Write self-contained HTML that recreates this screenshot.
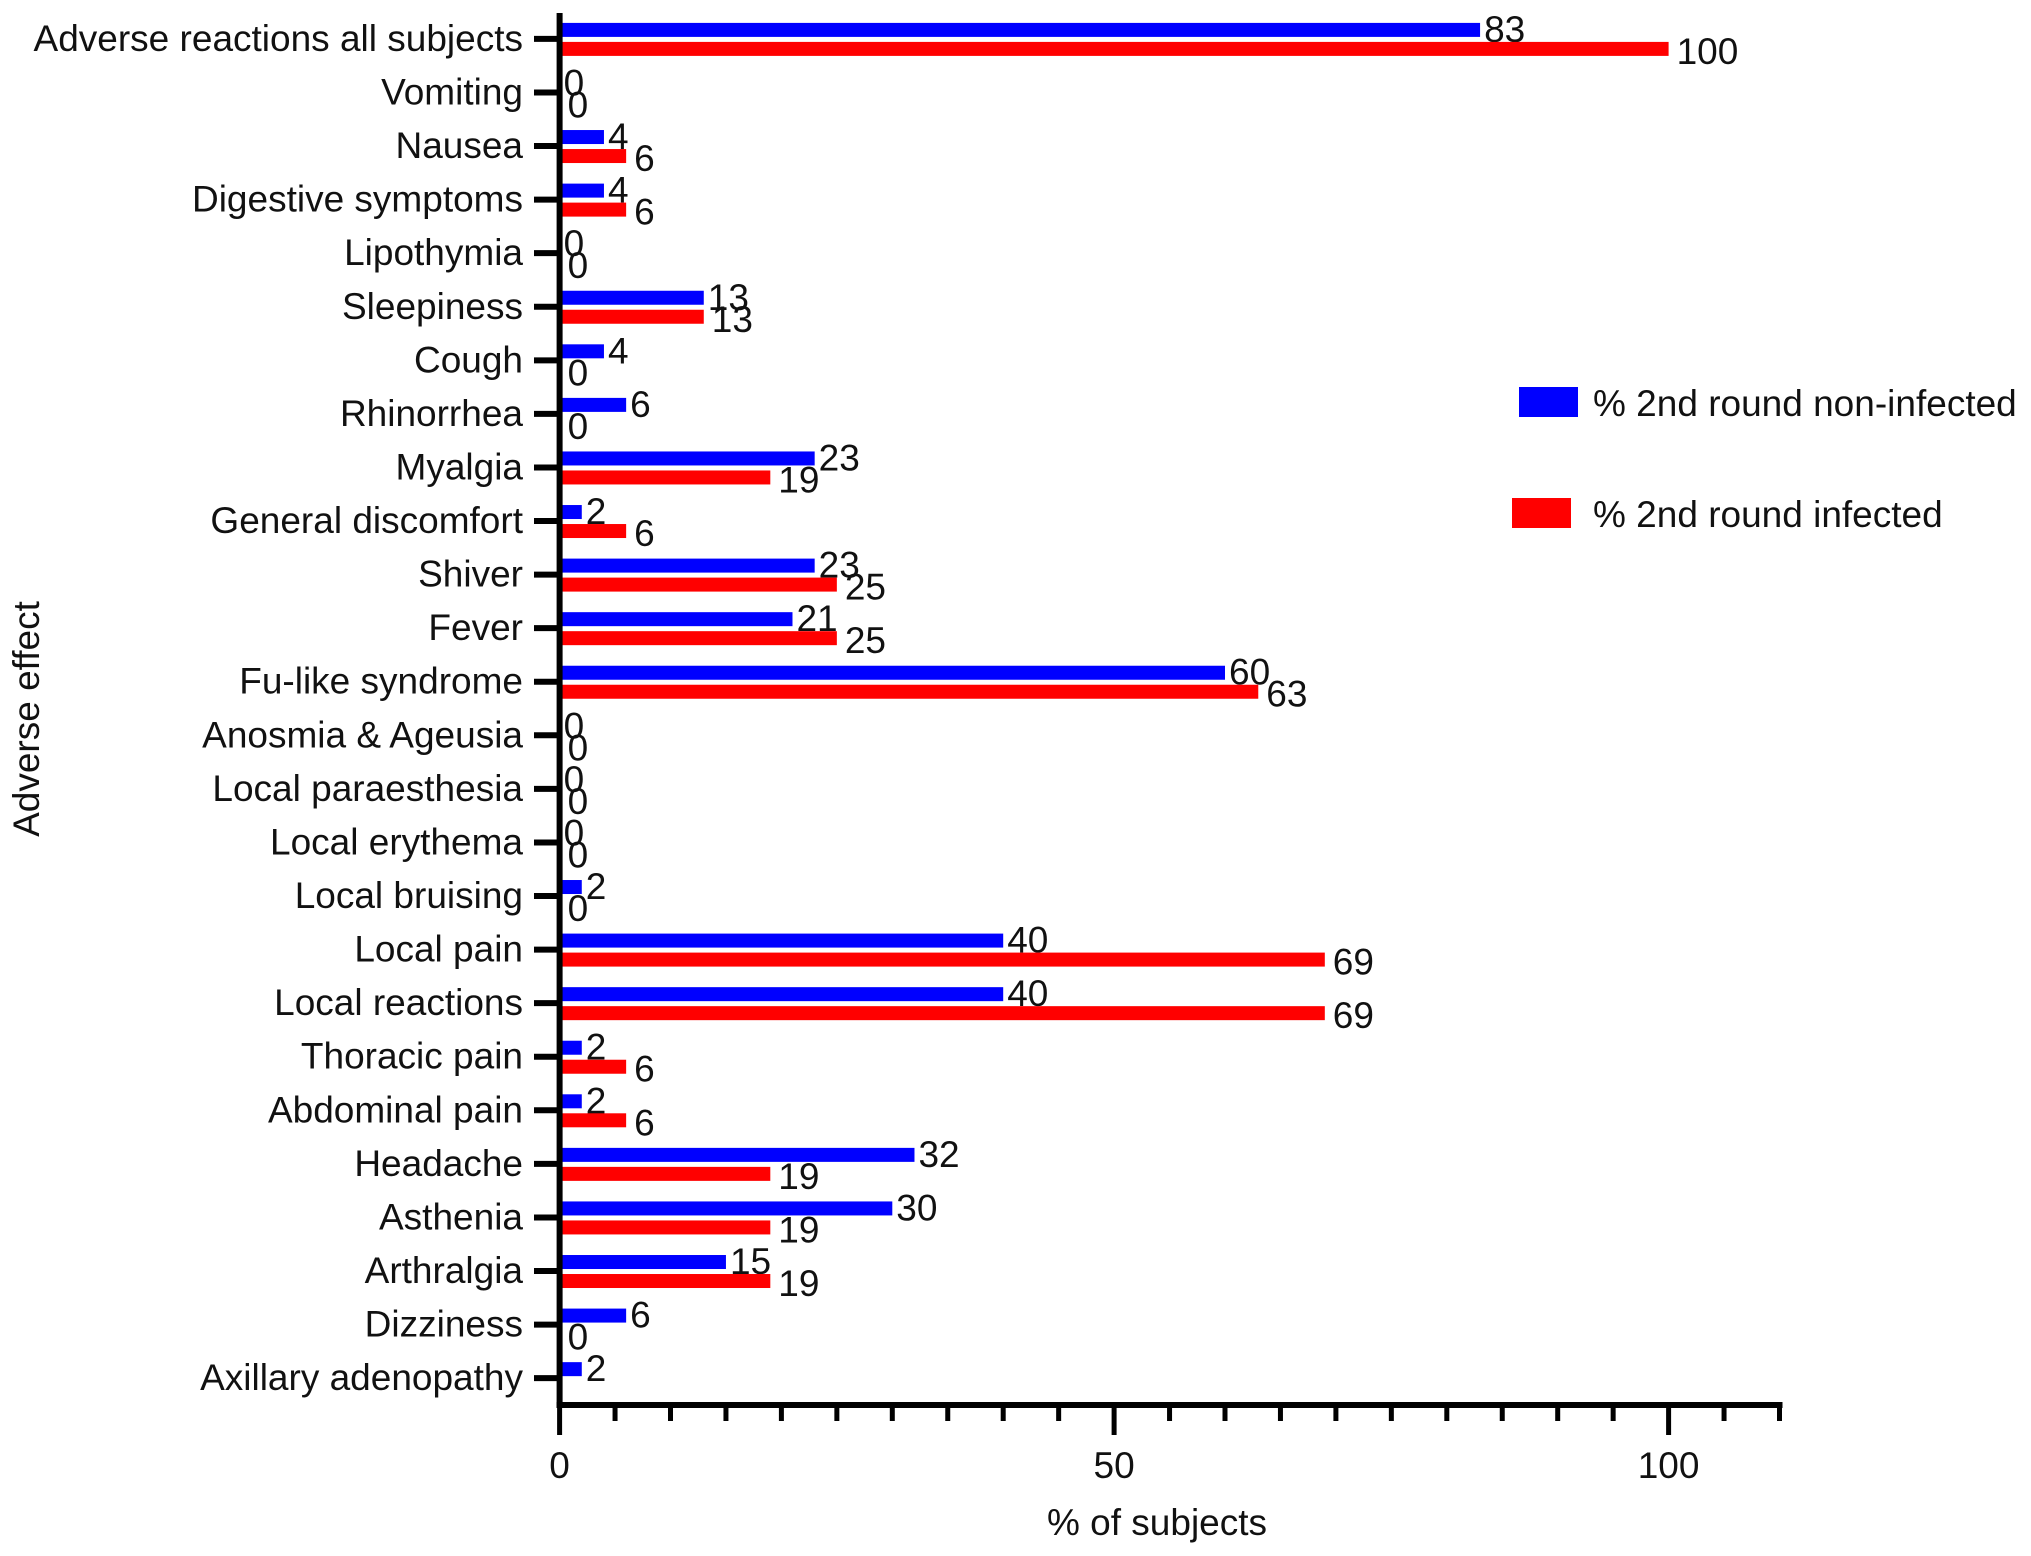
<!DOCTYPE html>
<html><head><meta charset="utf-8"><style>
html,body{margin:0;padding:0;background:#fff;}
svg{display:block;font-family:"Liberation Sans",Arial,sans-serif;}
</style></head><body>
<svg id="chart" width="2031" height="1556" viewBox="0 0 2031 1556" xmlns="http://www.w3.org/2000/svg">
<g id="plot"></g>
</svg>
<script>
const categories = ["Adverse reactions all subjects","Vomiting","Nausea","Digestive symptoms","Lipothymia","Sleepiness","Cough","Rhinorrhea","Myalgia","General discomfort","Shiver","Fever","Fu-like syndrome","Anosmia & Ageusia","Local paraesthesia","Local erythema","Local bruising","Local pain","Local reactions","Thoracic pain","Abdominal pain","Headache","Asthenia","Arthralgia","Dizziness","Axillary adenopathy"];
const nonInfected = [83,0,4,4,0,13,4,6,23,2,23,21,60,0,0,0,2,40,40,2,2,32,30,15,6,2];
const infected = [100,0,6,6,0,13,0,0,19,6,25,25,63,0,0,0,0,69,69,6,6,19,19,19,0,null];
const xTickLabels = [0,50,100];
const seriesNames = ["% 2nd round non-infected","% 2nd round infected"];

const NS="http://www.w3.org/2000/svg";
const g=document.getElementById('plot');
const X0=559.6, XS=11.09, YBOT=1405, YTOP=13, Y0=38.9, YSTEP=53.57, FS=37;
const xs=v=>X0+v*XS;
const yc=i=>Y0+i*YSTEP;
function mk(tag,attrs,text){const e=document.createElementNS(NS,tag);for(const k in attrs)e.setAttribute(k,attrs[k]);if(text!==undefined)e.textContent=text;g.appendChild(e);return e;}

categories.forEach((c,i)=>{
  const lab=mk('text',{x:523,y:yc(i)+12,'text-anchor':'end','font-size':FS,fill:'#111'},c);
  
  
  const tk=mk('line',{x1:534,x2:560,y1:yc(i),y2:yc(i),stroke:'#000','stroke-width':6});
  
  
  const b=nonInfected[i];
  if(b!==null){
    const r=mk('rect',{x:X0,y:yc(i)-16,width:b*XS,height:14,fill:'#0000ff'});
    
    
    const t=mk('text',{x:xs(b)+4,y:yc(i)+3,'font-size':FS,fill:'#111'},String(b));
    
    
  }
  const rv=infected[i];
  if(rv!==null){
    const r=mk('rect',{x:X0,y:yc(i)+3,width:rv*XS,height:14,fill:'#ff0000'});
    
    
    const t=mk('text',{x:xs(rv)+8,y:yc(i)+25,'font-size':FS,fill:'#111'},String(rv));
    
    
  }
});
const ya=mk('line',{x1:X0,x2:X0,y1:YTOP,y2:YBOT+3,stroke:'#000','stroke-width':6});


const xa=mk('line',{x1:X0-3,x2:xs(110)+3,y1:YBOT,y2:YBOT,stroke:'#000','stroke-width':6});


for(let v=0;v<=110;v+=5){
  const major=v%50===0;
  const t=mk('line',{x1:xs(v),x2:xs(v),y1:YBOT,y2:YBOT+(major?30:16),stroke:'#000','stroke-width':5});
  
  
}
xTickLabels.forEach(v=>{
  const t=mk('text',{x:xs(v),y:1478,'text-anchor':'middle','font-size':FS,fill:'#111'},String(v));
  
  
});
const xt=mk('text',{x:1157,y:1535,'text-anchor':'middle','font-size':FS,fill:'#111'},'% of subjects');


const yt=mk('text',{x:0,y:0,'text-anchor':'middle','font-size':FS,fill:'#111',transform:'translate(39,719) rotate(-90)'},'Adverse effect');


const l1=mk('rect',{x:1519,y:387,width:59,height:30,fill:'#0000ff'});


const lt1=mk('text',{x:1593,y:416,'font-size':FS,fill:'#111'},seriesNames[0]);


const l2=mk('rect',{x:1512,y:498,width:59,height:30,fill:'#ff0000'});


const lt2=mk('text',{x:1593,y:527,'font-size':FS,fill:'#111'},seriesNames[1]);


</script>
</body></html>
